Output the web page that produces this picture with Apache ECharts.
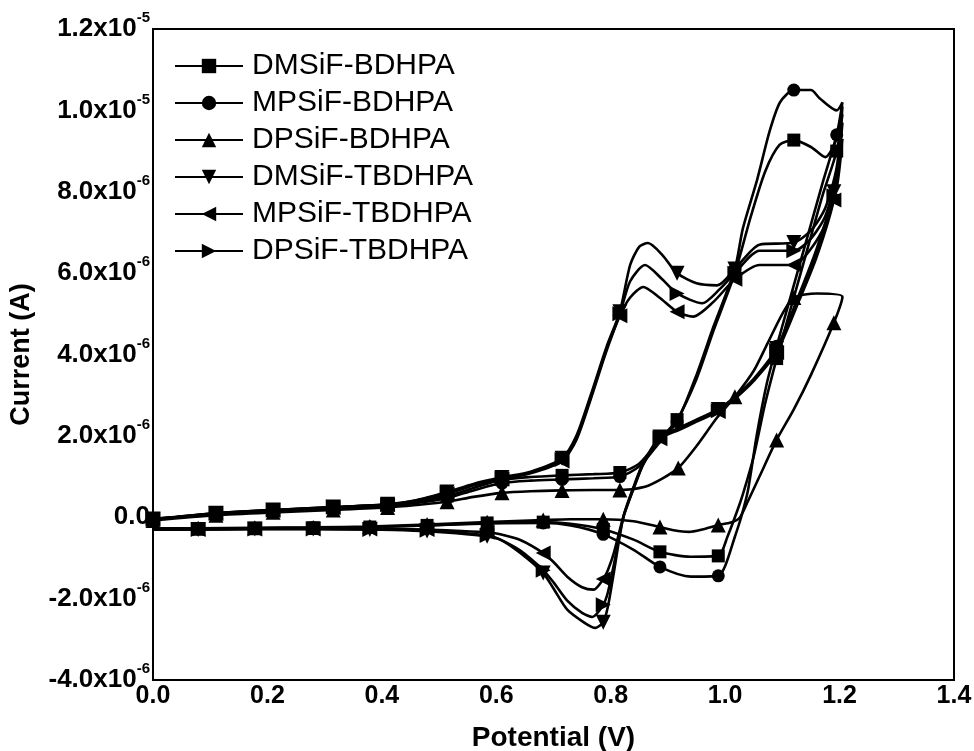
<!DOCTYPE html>
<html>
<head>
<meta charset="utf-8">
<script src="https://cdn.jsdelivr.net/npm/echarts@6/dist/echarts.min.js"></script>
<style>
html,body{margin:0;padding:0;background:#fff;}
#chart{width:974px;height:751px;}
</style>
</head>
<body>
<div id="chart"></div>
<script>
// ---- tick labels ----
const xTickLabels = ['0.0','0.2','0.4','0.6','0.8','1.0','1.2','1.4'];
const yTickValues = [-4,-2,0,2,4,6,8,10,12];               // in units of 1e-6 A
const yTickMantissa = ['-4.0x10','-2.0x10','0.0','2.0x10','4.0x10','6.0x10','8.0x10','1.0x10','1.2x10'];
const yTickExponent = ['-6','-6','','-6','-6','-6','-6','-5','-5'];

// ---- series names ----
const seriesNames = ['DMSiF-BDHPA','MPSiF-BDHPA','DPSiF-BDHPA','DMSiF-TBDHPA','MPSiF-TBDHPA','DPSiF-TBDHPA'];

// ---- data: [potential (V), current (1e-6 A), marker flag] ----
const dmsifBdhpa = [
[0,-0.05,1],[0.11,0.08,1],[0.21,0.16,1],[0.315,0.23,1],[0.41,0.3,1],[0.46,0.38,0],[0.514,0.52,1],[0.56,0.72,0],[0.61,0.92,1],[0.66,0.99,0],[0.715,1.03,1],[0.77,1.06,0],[0.816,1.1,1],[0.85,1.32,0],[0.886,1.92,0],[0.916,2.4,1],[0.95,3.4,0],[0.98,4.6,0],[1.017,6.0,1],[1.045,7.4,0],[1.07,8.5,0],[1.095,9.15,0],[1.12,9.27,1],[1.15,9.1,0],[1.175,8.85,0],[1.195,9.3,0],[1.205,9.9,0],
[1.195,9.0,1],[1.17,7.9,0],[1.14,6.4,0],[1.11,4.9,0],[1.09,3.9,1],[1.07,2.8,0],[1.05,1.5,0],[1.035,0.75,0],[1.026,0.35,0],[1.004,-0.48,0],[0.988,-0.95,1],[0.94,-0.97,0],[0.886,-0.85,1],[0.84,-0.55,0],[0.787,-0.3,1],[0.73,-0.16,0],[0.682,-0.12,1],[0.584,-0.14,1],[0.479,-0.2,1],[0.379,-0.24,1],[0.28,-0.26,1],[0.178,-0.27,1],[0.079,-0.28,1],[0,-0.28,0]
];
const mpsifBdhpa = [
[0,-0.05,1],[0.11,0.07,1],[0.21,0.15,1],[0.315,0.22,1],[0.41,0.28,1],[0.46,0.35,0],[0.514,0.47,1],[0.56,0.66,0],[0.61,0.84,1],[0.66,0.9,0],[0.715,0.93,1],[0.77,0.96,0],[0.816,1.0,1],[0.85,1.25,0],[0.886,1.85,0],[0.916,2.35,1],[0.95,3.5,0],[0.98,4.7,0],[1.017,6.1,1],[1.031,7.1,0],[1.056,8.3,0],[1.078,9.5,0],[1.096,10.2,0],[1.12,10.5,1],[1.15,10.5,0],[1.165,10.3,0],[1.195,10.0,0],[1.205,10.2,0],
[1.195,9.4,1],[1.17,8.2,0],[1.14,6.7,0],[1.11,5.2,0],[1.09,4.2,1],[1.073,3.3,0],[1.055,2.0,0],[1.04,0.67,0],[1.028,0.0,0],[1.017,-0.48,0],[1.0,-1.2,0],[0.988,-1.44,1],[0.94,-1.46,0],[0.886,-1.22,1],[0.84,-0.8,0],[0.787,-0.42,1],[0.73,-0.2,0],[0.682,-0.14,1],[0.584,-0.15,1],[0.479,-0.2,1],[0.379,-0.24,1],[0.28,-0.26,1],[0.178,-0.27,1],[0.079,-0.28,1],[0,-0.28,0]
];
const dpsifBdhpa = [
[0,-0.08,1],[0.11,0.05,1],[0.21,0.12,1],[0.315,0.18,1],[0.41,0.24,1],[0.46,0.3,0],[0.514,0.38,1],[0.56,0.5,0],[0.61,0.6,1],[0.66,0.64,0],[0.715,0.66,1],[0.77,0.67,0],[0.816,0.67,1],[0.86,0.75,0],[0.89,0.95,0],[0.918,1.21,1],[0.95,1.75,0],[0.986,2.45,0],[1.017,2.96,1],[1.05,3.6,0],[1.075,4.3,0],[1.1,5.0,0],[1.12,5.4,1],[1.16,5.5,0],[1.205,5.42,0],
[1.19,4.78,1],[1.15,3.5,0],[1.12,2.65,0],[1.09,1.9,1],[1.06,1.0,0],[1.04,0.4,0],[1.025,-0.02,0],[1.01,-0.13,0],[0.988,-0.19,1],[0.96,-0.3,0],[0.937,-0.36,0],[0.91,-0.32,0],[0.886,-0.24,1],[0.84,-0.1,0],[0.787,-0.05,1],[0.73,-0.05,0],[0.682,-0.07,1],[0.584,-0.12,1],[0.479,-0.18,1],[0.379,-0.23,1],[0.28,-0.25,1],[0.178,-0.26,1],[0.079,-0.27,1],[0,-0.28,0]
];
const dmsifTbdhpa = [
[0,-0.04,1],[0.11,0.1,1],[0.21,0.18,1],[0.315,0.25,1],[0.41,0.32,1],[0.46,0.42,0],[0.514,0.62,1],[0.56,0.82,0],[0.61,0.98,1],[0.66,1.12,0],[0.715,1.45,1],[0.74,2.0,0],[0.765,3.0,0],[0.793,4.2,0],[0.816,5.05,1],[0.834,6.2,0],[0.85,6.65,0],[0.865,6.74,0],[0.89,6.45,0],[0.916,6.0,1],[0.95,5.75,0],[0.986,5.7,0],[1.017,6.1,1],[1.06,6.7,0],[1.12,6.75,1],[1.15,7.05,0],[1.175,7.6,0],[1.195,8.6,0],[1.205,10.1,0],
[1.19,8.0,1],[1.16,6.6,0],[1.13,5.5,0],[1.09,4.15,1],[1.05,3.4,0],[1.02,3.0,0],[0.988,2.65,1],[0.95,2.4,0],[0.92,2.2,0],[0.886,1.97,1],[0.857,1.34,0],[0.84,0.75,0],[0.822,0.0,0],[0.805,-1.4,0],[0.795,-2.2,0],[0.787,-2.58,1],[0.773,-2.72,0],[0.755,-2.6,0],[0.724,-2.27,0],[0.7,-1.75,0],[0.682,-1.37,1],[0.642,-0.88,0],[0.607,-0.55,0],[0.584,-0.47,1],[0.53,-0.39,0],[0.479,-0.34,1],[0.42,-0.31,0],[0.379,-0.3,1],[0.28,-0.29,1],[0.178,-0.29,1],[0.079,-0.3,1],[0,-0.3,0]
];
const mpsifTbdhpa = [
[0,-0.05,1],[0.11,0.09,1],[0.21,0.17,1],[0.315,0.24,1],[0.41,0.31,1],[0.46,0.4,0],[0.514,0.58,1],[0.56,0.78,0],[0.61,0.94,1],[0.66,1.08,0],[0.715,1.38,1],[0.74,1.9,0],[0.765,2.9,0],[0.793,4.1,0],[0.816,4.95,1],[0.834,5.4,0],[0.857,5.66,0],[0.885,5.4,0],[0.916,5.05,1],[0.944,4.93,0],[0.98,5.3,0],[1.017,5.85,1],[1.06,6.2,0],[1.12,6.2,1],[1.15,6.6,0],[1.175,7.2,0],[1.195,8.1,0],[1.205,9.3,0],
[1.19,7.8,1],[1.16,6.4,0],[1.13,5.35,0],[1.09,4.05,1],[1.05,3.35,0],[1.02,2.95,0],[0.988,2.6,1],[0.95,2.35,0],[0.92,2.15,0],[0.886,1.93,1],[0.857,1.3,0],[0.84,0.7,0],[0.822,0.0,0],[0.805,-0.9,0],[0.795,-1.3,0],[0.787,-1.52,1],[0.77,-1.78,0],[0.75,-1.72,0],[0.724,-1.46,0],[0.7,-1.1,0],[0.682,-0.88,1],[0.642,-0.56,0],[0.607,-0.42,0],[0.584,-0.37,1],[0.53,-0.33,0],[0.479,-0.3,1],[0.42,-0.29,0],[0.379,-0.29,1],[0.28,-0.29,1],[0.178,-0.29,1],[0.079,-0.3,1],[0,-0.3,0]
];
const dpsifTbdhpa = [
[0,-0.05,1],[0.11,0.1,1],[0.21,0.18,1],[0.315,0.25,1],[0.41,0.31,1],[0.46,0.41,0],[0.514,0.6,1],[0.56,0.8,0],[0.61,0.96,1],[0.66,1.1,0],[0.715,1.42,1],[0.74,1.95,0],[0.765,2.95,0],[0.793,4.15,0],[0.816,5.0,1],[0.834,5.8,0],[0.86,6.2,0],[0.89,5.85,0],[0.916,5.5,1],[0.96,5.26,0],[0.99,5.6,0],[1.017,6.0,1],[1.06,6.55,0],[1.12,6.55,1],[1.15,6.85,0],[1.175,7.4,0],[1.195,8.4,0],[1.205,9.7,0],
[1.19,7.9,1],[1.16,6.5,0],[1.13,5.45,0],[1.09,4.1,1],[1.05,3.38,0],[1.02,2.98,0],[0.988,2.62,1],[0.95,2.38,0],[0.92,2.18,0],[0.886,1.95,1],[0.857,1.32,0],[0.84,0.72,0],[0.822,0.0,0],[0.805,-1.2,0],[0.795,-1.85,0],[0.787,-2.15,1],[0.768,-2.45,0],[0.75,-2.35,0],[0.724,-2.05,0],[0.7,-1.6,0],[0.682,-1.3,1],[0.642,-0.82,0],[0.607,-0.55,0],[0.584,-0.45,1],[0.53,-0.37,0],[0.479,-0.32,1],[0.42,-0.3,0],[0.379,-0.3,1],[0.28,-0.29,1],[0.178,-0.29,1],[0.079,-0.3,1],[0,-0.3,0]
];

const seriesData = [dmsifBdhpa, mpsifBdhpa, dpsifBdhpa, dmsifTbdhpa, mpsifTbdhpa, dpsifTbdhpa];
const seriesSymbols = ['rect','circle','triangle','triangle','triangle','triangle'];
const seriesRotate = [0,0,0,180,90,-90];

const FONT = '"Liberation Sans", Arial, sans-serif';

const chart = echarts.init(document.getElementById('chart'), null, {renderer:'canvas'});

const series = seriesData.map((pts, i) => ({
  name: seriesNames[i],
  type: 'line',
  smooth: 0.25,
  symbol: seriesSymbols[i],
  symbolRotate: seriesRotate[i],
  symbolSize: seriesSymbols[i] === 'triangle' ? 15 : 13,
  showSymbol: true,
  lineStyle: {color:'#000', width:2.6},
  itemStyle: {color:'#000', borderWidth:0},
  emphasis: {disabled:true},
  data: pts.map(p => p[2] ? {value:[p[0], p[1]]} : {value:[p[0], p[1]], symbol:'none'})
}));

chart.setOption({
  animation: false,
  backgroundColor: '#fff',
  grid: {left:153, right:20, top:29, bottom:71, containLabel:false, outerBoundsMode:'none',
         show:true, borderColor:'#000', borderWidth:2, backgroundColor:'transparent'},
  legend: {
    orient: 'vertical',
    left: 169, top: 46, padding: 5,
    itemWidth: 68, itemHeight: 18, itemGap: 7,
    data: seriesNames,
    textStyle: {fontFamily: FONT, fontSize: 30, color:'#000', lineHeight: 30, padding:[0,0,0,4]},
    selectedMode: false,
    inactiveColor: '#000'
  },
  xAxis: {
    type: 'value', min: 0, max: 1.4, interval: 0.2,
    name: 'Potential (V)', nameLocation: 'middle', nameGap: 44,
    nameTextStyle: {fontFamily: FONT, fontWeight:'bold', fontSize: 28, color:'#000'},
    axisLine: {show:true, onZero:false, lineStyle:{color:'#000', width:2}},
    axisTick: {show:false},
    splitLine: {show:false},
    axisLabel: {
      margin: 4, color:'#000', fontFamily: FONT, fontWeight:'bold', fontSize: 25,
      formatter: v => xTickLabels[Math.round(v/0.2)]
    }
  },
  yAxis: {
    type: 'value', min: -4, max: 12, interval: 2,
    name: 'Current (A)', nameLocation: 'middle', nameGap: 118,
    nameTextStyle: {fontFamily: FONT, fontWeight:'bold', fontSize: 27, color:'#000'},
    axisLine: {show:true, onZero:false, lineStyle:{color:'#000', width:2}},
    axisTick: {show:false},
    splitLine: {show:false},
    axisLabel: {
      margin: 3, color:'#000', fontFamily: FONT, fontWeight:'bold',
      formatter: v => {
        const i = yTickValues.indexOf(Math.round(v));
        if (i < 0) return '';
        return yTickExponent[i] ? '{m|' + yTickMantissa[i] + '}{e|' + yTickExponent[i] + '}' : '{m|' + yTickMantissa[i] + '}';
      },
      rich: {
        m: {fontFamily: FONT, fontWeight:'bold', fontSize: 26, color:'#000', lineHeight: 26},
        e: {fontFamily: FONT, fontWeight:'bold', fontSize: 15, color:'#000', lineHeight: 15, padding:[0,0,22,0]}
      }
    }
  },
  series: series
});
</script>
</body>
</html>
